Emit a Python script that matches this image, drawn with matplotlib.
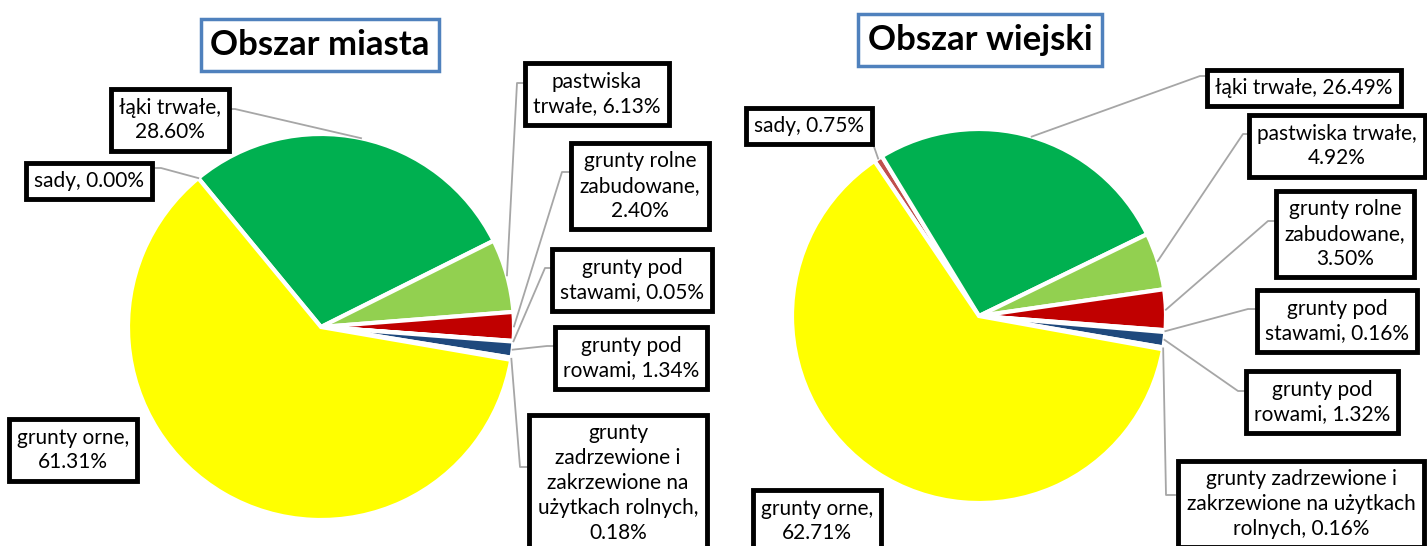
import matplotlib.pyplot as plt
import numpy as np

W, H = 1427, 546

# dane
kategorie = ['sady', 'łąki trwałe', 'pastwiska trwałe', 'grunty rolne zabudowane',
             'grunty pod stawami', 'grunty pod rowami',
             'grunty zadrzewione i zakrzewione na użytkach rolnych', 'grunty orne']
miasto = [0.00, 28.60, 6.13, 2.40, 0.05, 1.34, 0.18, 61.31]
wies = [0.75, 26.49, 4.92, 3.50, 0.16, 1.32, 0.16, 62.71]
kolory = ['#C0504D', '#00B050', '#92D050', '#C00000', '#4BACC6', '#1F497D', '#F79646', '#FFFF00']

etykiety_miasto = ['sady, {}', 'łąki trwałe,\n{}', 'pastwiska\ntrwałe, {}',
                   'grunty rolne\nzabudowane,\n{}', 'grunty pod\nstawami, {}',
                   'grunty pod\nrowami, {}',
                   'grunty\nzadrzewione i\nzakrzewione na\nużytkach rolnych,\n{}',
                   'grunty orne,\n{}']
etykiety_wies = ['sady, {}', 'łąki trwałe, {}', 'pastwiska trwałe,\n{}',
                 'grunty rolne\nzabudowane,\n{}', 'grunty pod\nstawami, {}',
                 'grunty pod\nrowami, {}',
                 'grunty zadrzewione i\nzakrzewione na użytkach\nrolnych, {}',
                 'grunty orne,\n{}']

# polozenie etykiet (px): x, y srodka tekstu, x kolanka, x boku ramki, y laczenia
poz_miasto = [(89, 181, 161, 152, 168),
              (170, 120, 235, 230, 109),
              (597, 94, 517, 526, 83),
              (640, 186, 562, 571, 172),
              (632, 280, 545, 554, 268),
              (631, 358, 547, 556, 346),
              (618, 483, 520, 528, 467),
              (73, 450, None, None, None)]
poz_wies = [(809, 126, 871, 871, 138),
            (1304, 88, 1200, 1211, 76),
            (1337, 146, 1243, 1251, 134),
            (1345, 234, 1268, 1277, 221),
            (1337, 321, 1248, 1259, 309),
            (1322, 402, 1238, 1247, 391),
            (1301, 504, 1166, 1175, 495),
            (817, 521, None, None, None)]

FONT = ['Lato', 'DejaVu Sans']


def rysuj(ax, wartosci, srodek, promien, start, tytul, poz_tytul, etykiety, pozycje):
    wedges, _ = ax.pie(wartosci, colors=kolory, startangle=start, counterclock=False,
                       center=(srodek[0], H - srodek[1]), radius=promien,
                       wedgeprops=dict(edgecolor='white', linewidth=3))
    for w, tekst, v, poz in zip(wedges, etykiety, wartosci, pozycje):
        ax.text(poz[0], H - poz[1], tekst.format('{:.2f}%'.format(v)),
                ha='center', va='center', multialignment='center',
                family=FONT, fontsize=15, linespacing=1.3, zorder=5,
                bbox=dict(boxstyle='square,pad=0.4', facecolor='white',
                          edgecolor='black', linewidth=3.5))
        kat = np.deg2rad((w.theta1 + w.theta2) / 2)
        px = w.center[0] + w.r * np.cos(kat)
        py = w.center[1] + w.r * np.sin(kat)
        if poz[2] is not None:
            ax.plot([px, poz[2], poz[3]], [py, H - poz[4], H - poz[4]],
                    color='#A6A6A6', linewidth=1.3, zorder=3)
    ax.text(poz_tytul[0], H - poz_tytul[1], tytul, ha='center', va='center',
            family=FONT, fontsize=25, fontweight='bold', zorder=5,
            bbox=dict(boxstyle='square,pad=0.28', facecolor='white',
                      edgecolor='#4F81BD', linewidth=2.5))


fig = plt.figure(figsize=(W / 100, H / 100), dpi=100)
ax = fig.add_axes([0, 0, 1, 1])

rysuj(ax, miasto, (321, 327), 193, 129.5, 'Obszar miasta', (320, 45),
      etykiety_miasto, poz_miasto)
rysuj(ax, wies, (979, 316), 187, 124, 'Obszar wiejski', (980, 40),
      etykiety_wies, poz_wies)

ax.set_xlim(0, W)
ax.set_ylim(0, H)
ax.set_aspect('auto')
ax.axis('off')

plt.savefig('out.png', dpi=100)
